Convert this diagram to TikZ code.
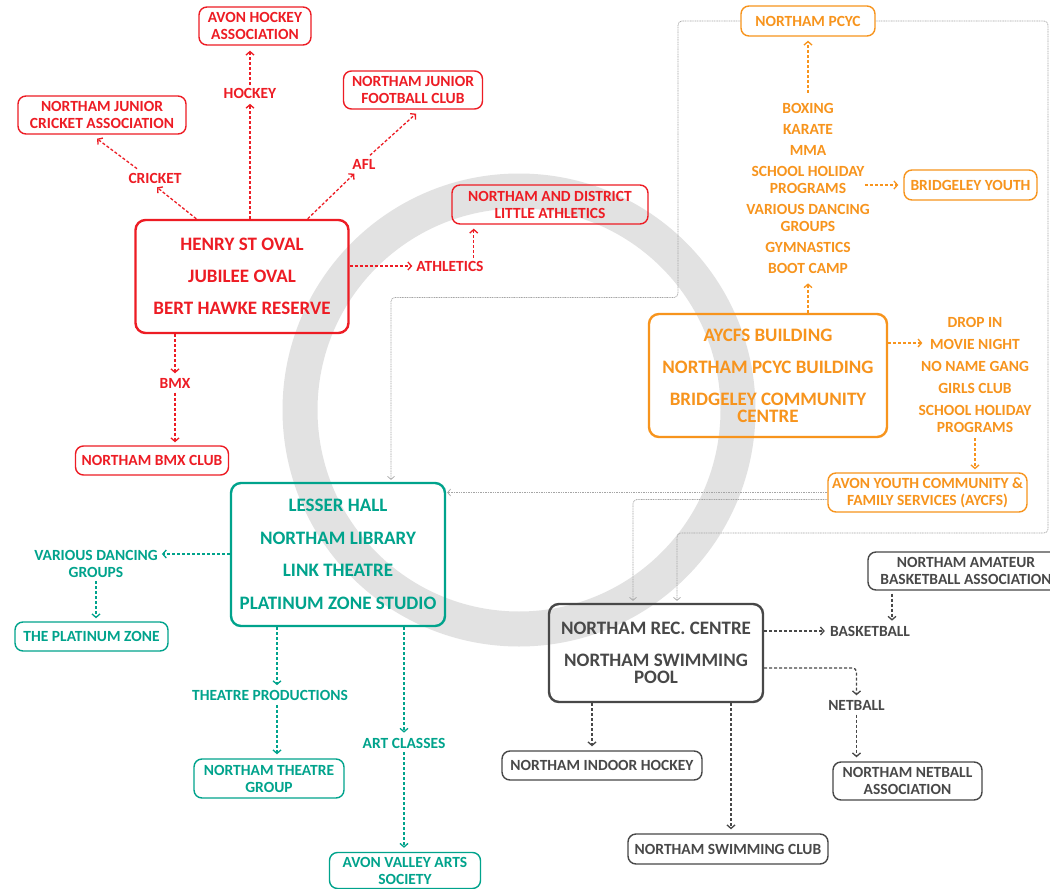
\documentclass[tikz,border=0pt]{standalone}
\usepackage{fontspec}
\setmainfont{Carlito}
\usetikzlibrary{arrows.meta,calc}
\definecolor{cRed}{RGB}{237,28,36}
\definecolor{cTeal}{RGB}{0,163,140}
\definecolor{cOrange}{RGB}{247,148,29}
\definecolor{cGray}{RGB}{72,72,72}
\definecolor{cLine}{RGB}{165,165,165}
\definecolor{cRing}{RGB}{226,226,226}
\newcommand\fsmall{\fontsize{15.5}{17}\selectfont\bfseries}
\newcommand\fbig{\fontsize{19}{17}\selectfont\bfseries}
\begin{document}
\begin{tikzpicture}[x=1pt,y=-1pt,
  sbox/.style={draw, rounded corners=8pt, line width=1.4pt, align=center, inner sep=0pt, font=\fsmall},
  bbox/.style={draw, rounded corners=10pt, line width=2.4pt, align=center, inner sep=0pt, font=\fbig},
  lbl/.style={align=center, inner sep=0pt, font=\fsmall},
  con/.style={line width=1.3pt, dash pattern=on 3pt off 2pt, -{Straight Barb[length=3.5pt,width=8pt,line width=1.3pt]}},
  thinl/.style={cLine, line width=0.7pt, dash pattern=on 1pt off 0.7pt, rounded corners=4pt, -{Straight Barb[length=3pt,width=7pt,line width=0.7pt]}},
]
\useasboundingbox (0,0) rectangle (1050,889);
\fill[white] (0,0) rectangle (1050,889);
\clip (0,0) rectangle (1050,889);

% background ring
\draw[cRing, line width=35pt] (519,410) circle[radius=219];

% ---------- red ----------
\node[bbox, cRed, minimum width=213pt, minimum height=113pt] (ovals) at (242,276.5)
  {HENRY ST OVAL\\[15pt]JUBILEE OVAL\\[15pt]BERT HAWKE RESERVE};
\node[sbox, cRed, minimum width=112pt, minimum height=38pt] (hockeyA) at (255,26) {AVON HOCKEY\\ASSOCIATION};
\node[sbox, cRed, minimum width=168pt, minimum height=38pt] (cricketA) at (102,115) {NORTHAM JUNIOR\\CRICKET ASSOCIATION};
\node[sbox, cRed, minimum width=139pt, minimum height=38pt] (footballA) at (413,90) {NORTHAM JUNIOR\\FOOTBALL CLUB};
\node[sbox, cRed, minimum width=196pt, minimum height=39pt] (littleAth) at (550,204.5) {NORTHAM AND DISTRICT\\LITTLE ATHLETICS};
\node[sbox, cRed, minimum width=153pt, minimum height=29pt] (bmxClub) at (152,460.5) {NORTHAM BMX CLUB};
\node[lbl, cRed] (lHockey) at (250,93.5) {HOCKEY};
\node[lbl, cRed] (lCricket) at (155,178) {CRICKET};
\node[lbl, cRed] (lAfl) at (364,164.5) {AFL};
\node[lbl, cRed] (lAth) at (450,266) {ATHLETICS};
\node[lbl, cRed] (lBmx) at (175,383.5) {BMX};

\coordinate (athUp) at ($(lAth.north east)+(-10,0)$);
\draw[con, cRed, shorten >=5pt] (lHockey.south |- ovals.north) -- (lHockey.south);
\draw[con, cRed, shorten <=3pt, shorten >=5pt] (lHockey.north) -- (lHockey.north |- hockeyA.south);
\draw[con, cRed] ($(ovals.north west)+(62,0)$) -- ($(lCricket.south)+(2,4)$);
\draw[con, cRed] ($(lCricket.north)+(-18,-4)$) -- ($(cricketA.south)+(-5,4)$);
\draw[con, cRed] ($(ovals.north east)+(-42,0)$) -- ($(lAfl.south west)+(2,4)$);
\draw[con, cRed] ($(lAfl.north)+(6,-4)$) -- ($(footballA.south)+(3,4)$);
\draw[con, cRed, shorten >=4pt] (ovals.east |- lAth.west) -- (lAth.west);
\draw[con, cRed, shorten <=3pt, shorten >=4pt] (athUp) -- (athUp |- littleAth.south);
\draw[con, cRed, shorten >=5pt] (lBmx.north |- ovals.south) -- (lBmx.north);
\draw[con, cRed, shorten <=4pt, shorten >=3pt] (lBmx.south) -- (lBmx.south |- bmxClub.north);

% ---------- teal ----------
\node[bbox, cTeal, minimum width=214pt, minimum height=143pt] (hall) at (338,554.5)
  {LESSER HALL\\[15.5pt]NORTHAM LIBRARY\\[15.5pt]LINK THEATRE\\[15.5pt]PLATINUM ZONE STUDIO};
\node[sbox, cTeal, minimum width=153pt, minimum height=29pt] (platZone) at (91.5,636.5) {THE PLATINUM ZONE};
\node[sbox, cTeal, minimum width=150pt, minimum height=39pt] (theatreGroup) at (269,778.5) {NORTHAM THEATRE\\GROUP};
\node[sbox, cTeal, minimum width=151pt, minimum height=36pt] (artsSoc) at (405,870.5) {AVON VALLEY ARTS\\SOCIETY};
\node[lbl, cTeal] (lDance) at (96,563.5) {VARIOUS DANCING\\GROUPS};
\node[lbl, cTeal] (lTheatre) at (270,695.5) {THEATRE PRODUCTIONS};
\node[lbl, cTeal] (lArt) at (404,743) {ART CLASSES};

\coordinate (hw) at ($(hall.west)+(0,-0.5)$);
\coordinate (tA) at ($(hall.south)+(-61,0)$);
\draw[con, cTeal, shorten >=4pt] (hw) -- (hw -| lDance.east);
\draw[con, cTeal, shorten <=4pt, shorten >=3pt] (lDance.south) -- (lDance.south |- platZone.north);
\draw[con, cTeal, shorten >=5pt] (tA) -- (tA |- lTheatre.north);
\draw[con, cTeal, shorten <=4pt, shorten >=4pt] (tA |- lTheatre.south) -- (tA |- theatreGroup.north);
\draw[con, cTeal, shorten >=5pt] (lArt.north |- hall.south) -- (lArt.north);
\draw[con, cTeal, shorten <=4pt, shorten >=4pt] (lArt.south) -- (lArt.south |- artsSoc.north);

% ---------- orange ----------
\node[sbox, cOrange, minimum width=134pt, minimum height=30pt] (pcyc) at (808,21) {NORTHAM PCYC};
\node[lbl, cOrange] (pcycList) at (808,188)
  {BOXING\\[4pt]KARATE\\[4pt]MMA\\[4pt]SCHOOL HOLIDAY\\PROGRAMS\\[4pt]VARIOUS DANCING\\GROUPS\\[4pt]GYMNASTICS\\[4pt]BOOT CAMP};
\node[sbox, cOrange, minimum width=133pt, minimum height=30pt] (bridgeley) at (970.5,185) {BRIDGELEY YOUTH};
\node[bbox, cOrange, minimum width=238pt, minimum height=123pt] (aycfsBldg) at (768,375.5)
  {AYCFS BUILDING\\[15pt]NORTHAM PCYC BUILDING\\[15pt]BRIDGELEY COMMUNITY\\CENTRE};
\node[lbl, cOrange] (aycfsList) at (975,374.5)
  {DROP IN\\[5pt]MOVIE NIGHT\\[5pt]NO NAME GANG\\[5pt]GIRLS CLUB\\[5pt]SCHOOL HOLIDAY\\PROGRAMS};
\node[sbox, cOrange, minimum width=199pt, minimum height=39pt] (aycfsServ) at (927.5,492.5) {AVON YOUTH COMMUNITY \&\\FAMILY SERVICES (AYCFS)};

\coordinate (bq) at ($(pcycList.east)+(-5,0)$);
\draw[con, cOrange, shorten <=10pt, shorten >=4pt] (pcycList.north) -- (pcycList.north |- pcyc.south);
\draw[con, cOrange, shorten >=10pt] (pcycList.south |- aycfsBldg.north) -- (pcycList.south);
\draw[con, cOrange, shorten >=5pt] (bq |- bridgeley.west) -- (bridgeley.west);
\draw[con, cOrange] ($(aycfsBldg.east)+(0,-32.5)$) -- ($(aycfsList.west)+(4,-31.5)$);
\draw[con, cOrange, shorten <=6pt, shorten >=3pt] (aycfsList.south) -- (aycfsList.south |- aycfsServ.north);

% ---------- gray ----------
\node[bbox, cGray, minimum width=214pt, minimum height=98pt] (rec) at (656,653)
  {NORTHAM REC. CENTRE\\[15pt]NORTHAM SWIMMING\\POOL};
\node[sbox, cGray, minimum width=196pt, minimum height=38pt] (basketAssoc) at (966,571) {NORTHAM AMATEUR\\BASKETBALL ASSOCIATION};
\node[lbl, cGray] (lBasket) at (870,631) {BASKETBALL};
\node[lbl, cGray] (lNetball) at (856.5,705.5) {NETBALL};
\node[sbox, cGray, minimum width=149pt, minimum height=38pt] (netballAssoc) at (907.5,781) {NORTHAM NETBALL\\ASSOCIATION};
\node[sbox, cGray, minimum width=200pt, minimum height=29pt] (indoorHockey) at (602,765.5) {NORTHAM INDOOR HOCKEY};
\node[sbox, cGray, minimum width=200pt, minimum height=30pt] (swimClub) at (728,849) {NORTHAM SWIMMING CLUB};

\coordinate (bd) at ($(basketAssoc.south)+(-74,0)$);
\coordinate (ri) at ($(rec.south)+(-64,0)$);
\coordinate (rs) at ($(rec.south)+(75,0)$);
\coordinate (rn) at ($(rec.east)+(0,15)$);
\draw[con, cGray, shorten >=5pt] (rec.east |- lBasket.west) -- (lBasket.west);
\draw[con, cGray, shorten <=3pt, shorten >=5pt] (bd) -- (bd |- lBasket.north);
\draw[con, cGray, rounded corners=4pt, shorten >=5pt] (rn) -| (lNetball.north);
\draw[con, cGray, shorten <=4pt, shorten >=4pt] (lNetball.south) -- (lNetball.south |- netballAssoc.north);
\draw[con, cGray, shorten >=4pt] (ri) -- (ri |- indoorHockey.north);
\draw[con, cGray, shorten >=4pt] (rs) -- (rs |- swimClub.north);

% ---------- thin gray links ----------
\coordinate (k1) at (678,297.5);
\coordinate (k2) at (1048,533);
\coordinate (hn) at ($(hall.north)+(53,0)$);
\coordinate (rn1) at ($(rec.north)+(21,0)$);
\coordinate (rn2) at ($(rec.north)+(-23,0)$);
\coordinate (aw) at ($(aycfsServ.west)+(0,7)$);
\draw[thinl, shorten >=2pt] (pcyc.west) -| (k1) -| (hn);
\draw[thinl, shorten >=2pt] (pcyc.east) -| (k2) -| (rn1);
\draw[thinl, shorten >=1pt] (aycfsServ.west) -- (hall.east |- aycfsServ.west);
\draw[thinl, shorten >=2pt] (aw) -| (rn2);
\end{tikzpicture}
\end{document}
